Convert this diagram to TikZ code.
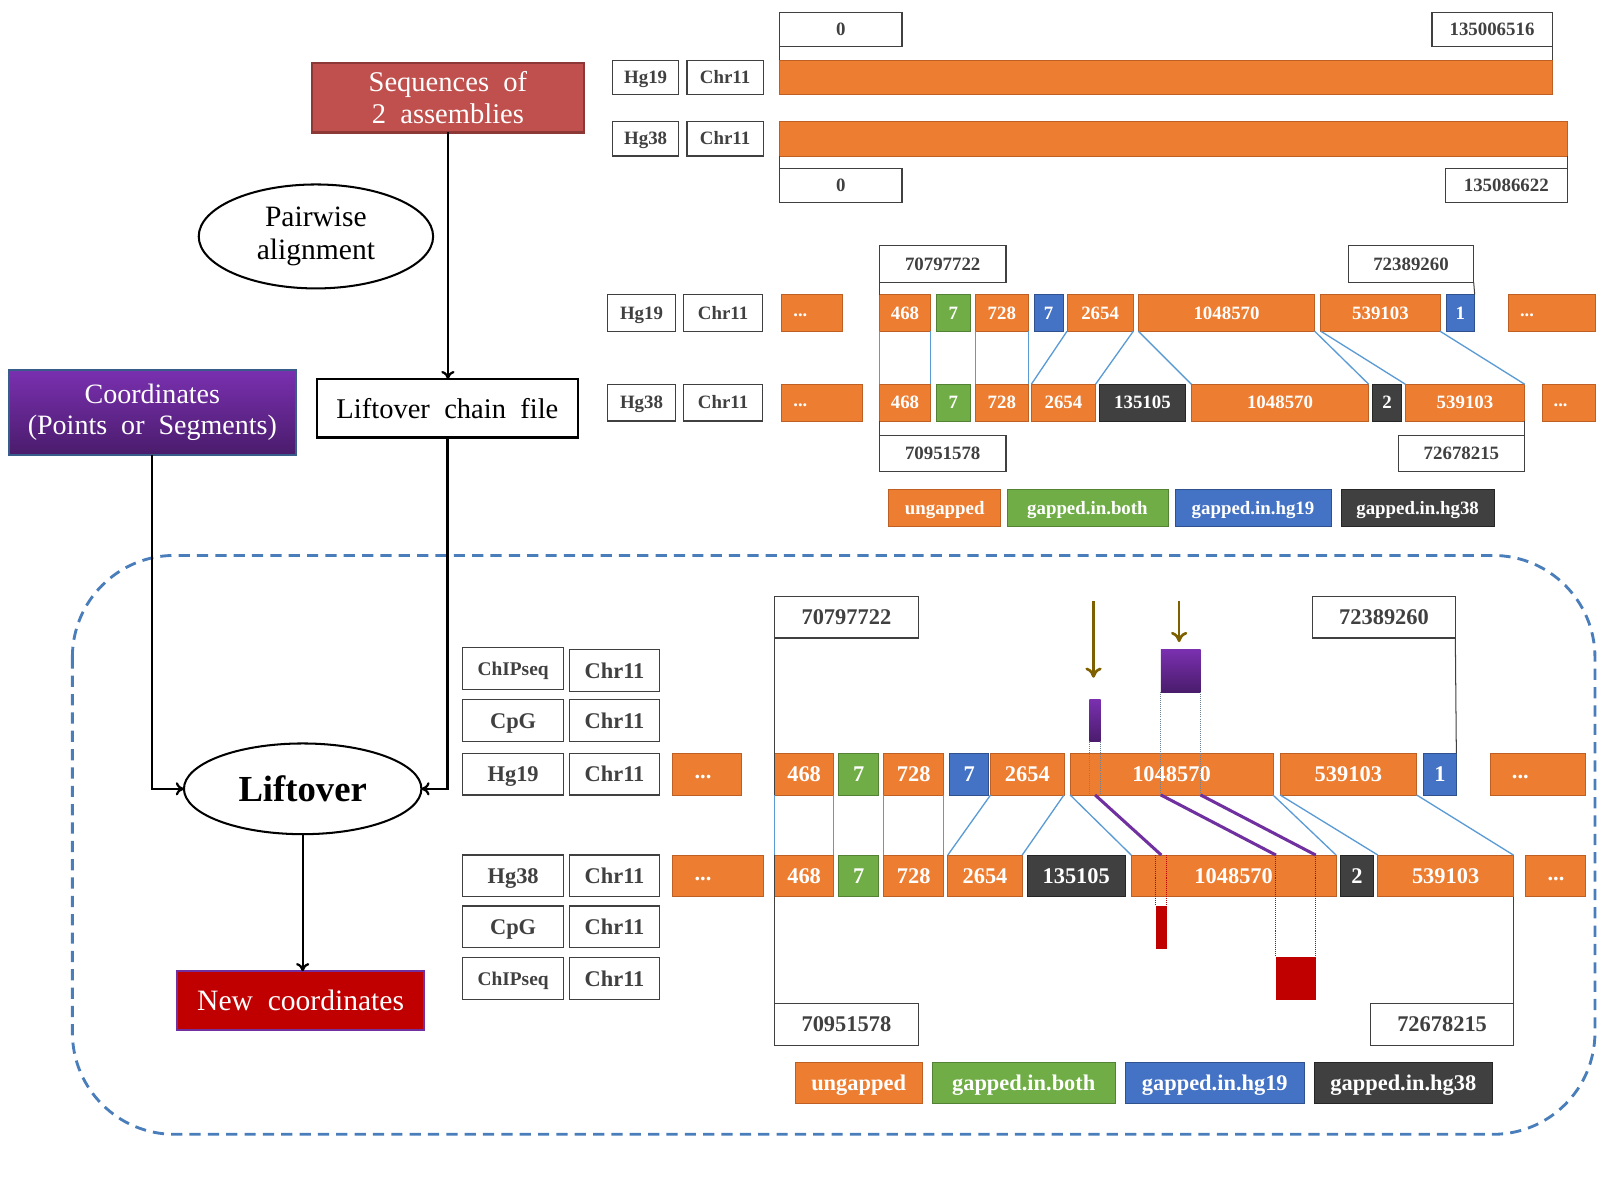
\documentclass[tikz,border=0pt]{standalone}
\usepackage{fontspec}
\setmainfont{Liberation Serif}
\usetikzlibrary{arrows.meta, positioning, shapes.geometric, calc}
\definecolor{ungap}{RGB}{237,125,49}
\definecolor{ungapedge}{RGB}{190,95,35}
\definecolor{gboth}{RGB}{112,173,71}
\definecolor{gbothedge}{RGB}{84,130,53}
\definecolor{hgblue}{RGB}{68,114,196}
\definecolor{hgblueedge}{RGB}{47,82,143}
\definecolor{hgdark}{RGB}{64,64,64}
\definecolor{hgdarkedge}{RGB}{38,38,38}
\definecolor{linkblue}{RGB}{91,155,213}
\definecolor{frameblue}{RGB}{74,126,187}
\definecolor{labgray}{RGB}{64,64,64}
\definecolor{seqred}{RGB}{192,80,77}
\definecolor{seqedge}{RGB}{140,56,54}
\definecolor{purptop}{RGB}{122,48,176}
\definecolor{purpbot}{RGB}{74,28,108}
\definecolor{coordedge}{RGB}{56,93,138}
\definecolor{newred}{RGB}{192,0,0}
\definecolor{mapline}{RGB}{112,48,160}
\definecolor{pinbrown}{RGB}{127,96,0}
\definecolor{dotgray}{RGB}{110,130,150}

\begin{document}
\begin{tikzpicture}[x=1pt, y=-1pt,
  lab/.style={rectangle, draw=labgray, line width=1.2pt, fill=white, text=labgray,
    inner sep=0pt, outer sep=0pt},
  seg/.style={rectangle, inner sep=0pt, outer sep=0pt, line width=0.8pt, text=white},
  ung/.style={seg, fill=ungap, draw=ungapedge},
  both/.style={seg, fill=gboth, draw=gbothedge},
  onlyA/.style={seg, fill=hgblue, draw=hgblueedge},
  onlyB/.style={seg, fill=hgdark, draw=hgdarkedge},
  toprow/.style={minimum height=34pt, text height=12.4pt, text depth=0pt,
    font=\bfseries\fontsize{18.5}{18.5}\selectfont},
  midrow/.style={minimum height=36pt, text height=12.6pt, text depth=0pt,
    font=\bfseries\fontsize{18.5}{18.5}\selectfont},
  botrow/.style={minimum height=41pt, text height=15pt, text depth=0pt,
    font=\bfseries\fontsize{22}{22}\selectfont},
  dotlab/.style={anchor=west, xshift=8pt, text=white, font=\bfseries\fontsize{18}{18}\selectfont},
  dotlabbig/.style={dotlab, xshift=10pt, font=\bfseries\fontsize{22}{22}\selectfont},
  link/.style={linkblue, line width=1.3pt},
  tick/.style={labgray, line width=1pt},
  flow/.style={align=center, inner sep=0pt, outer sep=0pt, font=\fontsize{28}{31}\selectfont},
  flowarr/.style={-{To[length=8pt,width=13pt]}, line width=2.2pt},
  pin/.style={-{To[length=10pt,width=16pt]}, pinbrown, line width=2.6pt},
  mapped/.style={mapline, line width=3pt},
  guide/.style={densely dotted, line width=1pt}
]
\useasboundingbox (0,0) rectangle (1568,1176);

%% liftover frame
\draw[frameblue, line width=2.8pt, dash pattern=on 11pt off 7pt, rounded corners=100pt]
  (71,545) rectangle (1565,1113);

%% flow chart
\node[flow, rectangle, fill=seqred, draw=seqedge, line width=2pt, text=white,
  minimum width=267pt, minimum height=68pt] (seq) at (439.5,96) {Sequences\ \ of\\2\ \ assemblies};
\node[flow, ellipse, draw, line width=2pt, minimum width=230pt, minimum height=102pt,
  font=\fontsize{29}{33}\selectfont] (pair) at (310,232) {Pairwise\\alignment};
\node[flow, rectangle, draw, line width=2.6pt, fill=white,
  minimum width=256pt, minimum height=57pt] (chain) at (439,400.5) {Liftover\ \ chain\ \ file};
\node[flow, rectangle, top color=purptop, bottom color=purpbot, draw=coordedge, line width=2pt,
  text=white, minimum width=281pt, minimum height=83pt, font=\fontsize{27.5}{31}\selectfont]
  (coord) at (149.5,404.5) {Coordinates\\(Points\ \ or\ \ Segments)};
\node[flow, ellipse, draw, line width=2pt, minimum width=233pt, minimum height=89pt,
  font=\bfseries\fontsize{36}{36}\selectfont] (lift) at (297,774) {Liftover};
\node[flow, rectangle, fill=newred, draw=mapline, line width=2pt, text=white,
  minimum width=242pt, minimum height=58pt, font=\fontsize{29}{31}\selectfont]
  (newc) at (295,982) {New\ \ coordinates};

\draw[flowarr] (seq.south) -- (seq.south |- chain.north);
\draw[flowarr] (coord.south) |- (lift.west);
\draw[flowarr] (chain.south) |- (lift.east);
\draw[flowarr] (lift.south) -- (lift.south |- newc.north);

%% whole chromosomes
\node[lab, toprow, minimum width=65pt] (t19-asm) at (633.5,76) {Hg19};
\node[lab, toprow, minimum width=75pt] (t19-chr) at (711.5,76) {Chr11};
\node[ung, toprow, minimum width=758pt] (t19) at (1144,76) {};
\node[lab, toprow, minimum width=65pt] (t38-asm) at (633.5,136) {Hg38};
\node[lab, toprow, minimum width=75pt] (t38-chr) at (711.5,136) {Chr11};
\node[ung, toprow, minimum width=773pt] (t38) at (1151.5,136) {};
\node[lab, toprow, minimum width=120pt] (t19-start) at (825,29) {0};
\node[lab, toprow, minimum width=118pt] (t19-end) at (1464,29) {135006516};
\node[lab, toprow, minimum width=120pt] (t38-start) at (825,182) {0};
\node[lab, toprow, minimum width=120pt] (t38-end) at (1478,182) {135086622};
\draw[tick] (t19-start.south west) -- (t19.north west);
\draw[tick] (t19-end.south east) -- (t19.north east);
\draw[tick] (t38.south west) -- (t38-start.north west);
\draw[tick] (t38.south east) -- (t38-end.north east);

%% chain blocks
\node[lab, midrow, minimum width=67pt] (m19-asm) at (629.5,307) {Hg19};
\node[lab, midrow, minimum width=77pt] (m19-chr) at (709.5,307) {Chr11};
\node[ung, midrow, minimum width=60pt, label={[dotlab]west:\strut...}] (m19-l) at (797,307) {};
\node[ung, midrow, minimum width=50pt] (m19-468) at (888,307) {468};
\node[both, midrow, minimum width=33pt] (m19-7g) at (935.5,307) {7};
\node[ung, midrow, minimum width=52pt] (m19-728) at (983,307) {728};
\node[onlyA, midrow, minimum width=28pt] (m19-7b) at (1029,307) {7};
\node[ung, midrow, minimum width=65pt] (m19-2654) at (1079.5,307) {2654};
\node[ung, midrow, minimum width=173pt] (m19-1048570) at (1203.5,307) {1048570};
\node[ung, midrow, minimum width=117pt] (m19-539103) at (1354.5,307) {539103};
\node[onlyA, midrow, minimum width=28pt] (m19-1) at (1433,307) {1};
\node[ung, midrow, minimum width=85pt, label={[dotlab]west:\strut...}] (m19-r) at (1522.5,307) {};

\node[lab, midrow, minimum width=67pt] (m38-asm) at (629.5,395) {Hg38};
\node[lab, midrow, minimum width=77pt] (m38-chr) at (709.5,395) {Chr11};
\node[ung, midrow, minimum width=79pt, label={[dotlab]west:\strut...}] (m38-l) at (806.5,395) {};
\node[ung, midrow, minimum width=50pt] (m38-468) at (888,395) {468};
\node[both, midrow, minimum width=33pt] (m38-7g) at (935.5,395) {7};
\node[ung, midrow, minimum width=52pt] (m38-728) at (983,395) {728};
\node[ung, midrow, minimum width=63pt] (m38-2654) at (1043.5,395) {2654};
\node[onlyB, midrow, minimum width=84pt] (m38-135105) at (1121,395) {135105};
\node[ung, midrow, minimum width=174pt] (m38-1048570) at (1256,395) {1048570};
\node[onlyB, midrow, minimum width=28pt] (m38-2) at (1361,395) {2};
\node[ung, midrow, minimum width=117pt] (m38-539103) at (1437.5,395) {539103};
\node[ung, midrow, minimum width=52pt, label={[dotlab]west:\strut...}] (m38-r) at (1539,395) {};

\node[lab, midrow, minimum width=124pt] (m19-start) at (925,259) {70797722};
\node[lab, midrow, minimum width=123pt] (m19-end) at (1384.5,259) {72389260};
\node[lab, midrow, minimum width=124pt] (m38-start) at (925,445) {70951578};
\node[lab, midrow, minimum width=124pt] (m38-end) at (1434,445) {72678215};
\draw[tick] (m19-start.south west) -- (m19-468.north west);
\draw[tick] (m19-end.south east) -- (m19-1.north east);
\draw[tick] (m38-468.south west) -- (m38-start.north west);
\draw[tick] (m38-539103.south east) -- (m38-end.north east);

\foreach \blk in {468,728,2654,1048570,539103} {
  \draw[link] (m19-\blk.south west) -- (m38-\blk.north west);
  \draw[link] (m19-\blk.south east) -- (m38-\blk.north east);
}

\node[ung, midrow, minimum width=110pt] (m-key1) at (927,498.5) {ungapped};
\node[both, midrow, minimum width=158pt] (m-key2) at (1067,498.5) {gapped.in.both};
\node[onlyA, midrow, minimum width=153pt] (m-key3) at (1229.5,498.5) {gapped.in.hg19};
\node[onlyB, midrow, minimum width=150pt] (m-key4) at (1391,498.5) {gapped.in.hg38};

%% tracks lifted over the chain
\node[lab, botrow, minimum width=99pt, text height=13pt, font=\bfseries\fontsize{19}{19}\selectfont] (b-chip1) at (503.5,656) {ChIPseq};
\node[lab, botrow, minimum width=88pt] (b-chip1-chr) at (603,658) {Chr11};
\node[lab, botrow, minimum width=99pt] (b-cpg1) at (503.5,707) {CpG};
\node[lab, botrow, minimum width=88pt] (b-cpg1-chr) at (603,707) {Chr11};
\node[lab, botrow, minimum width=99pt] (b19-asm) at (503.5,759.5) {Hg19};
\node[lab, botrow, minimum width=88pt] (b19-chr) at (603,759.5) {Chr11};
\node[lab, botrow, minimum width=99pt] (b38-asm) at (503.5,859.5) {Hg38};
\node[lab, botrow, minimum width=88pt] (b38-chr) at (603,859.5) {Chr11};
\node[lab, botrow, minimum width=99pt] (b-cpg2) at (503.5,909.5) {CpG};
\node[lab, botrow, minimum width=88pt] (b-cpg2-chr) at (603,909.5) {Chr11};
\node[lab, botrow, minimum width=99pt, text height=13pt, font=\bfseries\fontsize{19}{19}\selectfont] (b-chip2) at (503.5,960) {ChIPseq};
\node[lab, botrow, minimum width=88pt] (b-chip2-chr) at (603,960) {Chr11};

\node[lab, botrow, minimum width=141pt] (b19-start) at (830.5,605.5) {70797722};
\node[lab, botrow, minimum width=140pt] (b19-end) at (1358,605.5) {72389260};
\node[lab, botrow, minimum width=141pt] (b38-start) at (830.5,1005) {70951578};
\node[lab, botrow, minimum width=140pt] (b38-end) at (1415,1005) {72678215};

\node[ung, botrow, minimum width=67pt, label={[dotlabbig]west:\strut...}] (b19-l) at (693.5,759.5) {};
\node[ung, botrow, minimum width=58pt] (b19-468) at (789,759.5) {468};
\node[both, botrow, minimum width=39pt] (b19-7g) at (842.5,759.5) {7};
\node[ung, botrow, minimum width=59pt] (b19-728) at (896.5,759.5) {728};
\node[onlyA, botrow, minimum width=38pt] (b19-7b) at (951,759.5) {7};
\node[ung, botrow, minimum width=72pt] (b19-2654) at (1008,759.5) {2654};
\node[ung, botrow, minimum width=199pt] (b19-1048570) at (1149.5,759.5) {1048570};
\node[ung, botrow, minimum width=134pt] (b19-539103) at (1323,759.5) {539103};
\node[onlyA, botrow, minimum width=32pt] (b19-1) at (1413,759.5) {1};
\node[ung, botrow, minimum width=94pt, label={[dotlabbig]west:\strut...}] (b19-r) at (1509,759.5) {};

\node[ung, botrow, minimum width=89pt, label={[dotlabbig]west:\strut...}] (b38-l) at (704.5,859.5) {};
\node[ung, botrow, minimum width=58pt] (b38-468) at (789,859.5) {468};
\node[both, botrow, minimum width=39pt] (b38-7g) at (842.5,859.5) {7};
\node[ung, botrow, minimum width=59pt] (b38-728) at (896.5,859.5) {728};
\node[ung, botrow, minimum width=73pt] (b38-2654) at (966.5,859.5) {2654};
\node[onlyB, botrow, minimum width=96pt] (b38-135105) at (1056,859.5) {135105};
\node[ung, botrow, minimum width=201pt] (b38-1048570) at (1210.5,859.5) {1048570};
\node[onlyB, botrow, minimum width=33pt] (b38-2) at (1331.5,859.5) {2};
\node[ung, botrow, minimum width=133pt] (b38-539103) at (1418.5,859.5) {539103};
\node[ung, botrow, minimum width=59pt, label={[dotlabbig]west:\strut...}] (b38-r) at (1526.5,859.5) {};

\draw[tick] (b19-start.south west) -- (b38-start.north west);
\draw[tick] (b19-end.south east) -- (b19-1.north east);
\draw[tick] (b38-539103.south east) -- (b38-end.north east);

\foreach \blk in {468,728,2654,1048570,539103} {
  \draw[link] (b19-\blk.south west) -- (b38-\blk.north west);
  \draw[link] (b19-\blk.south east) -- (b38-\blk.north east);
}

%% ChIPseq peak and CpG island, before and after
\node[seg, top color=purptop, bottom color=purpbot, minimum width=11pt, minimum height=42pt] (cpg19) at (1074.5,707) {};
\node[seg, top color=purptop, bottom color=purpbot, minimum width=39pt, minimum height=42pt] (chip19) at (1158.5,658) {};
\node[seg, fill=newred, minimum width=11pt, minimum height=42pt] (cpg38) at (1139.5,910) {};
\node[seg, fill=newred, minimum width=39pt, minimum height=42pt] (chip38) at (1271.5,960) {};

\coordinate (pin1) at (1073,590);
\coordinate (pin2) at (1157,590);
\draw[pin] (pin1) -- (pin1 |- 0,665);
\draw[pin] (pin2) -- (pin2 |- 0,630);

\draw[guide, dotgray] (cpg19.south west) -- (cpg19.south west |- b19-1048570.south);
\draw[guide, dotgray] (cpg19.south east) -- (cpg19.south east |- b19-1048570.south);
\draw[guide, dotgray] (chip19.south west) -- (chip19.south west |- b19-1048570.south);
\draw[guide, dotgray] (chip19.south east) -- (chip19.south east |- b19-1048570.south);
\draw[guide, newred] (cpg38.north west |- b38-1048570.north) -- (cpg38.north west);
\draw[guide, newred] (cpg38.north east |- b38-1048570.north) -- (cpg38.north east);
\draw[guide, newred] (chip38.north west |- b38-1048570.north) -- (chip38.north west);
\draw[guide, newred] (chip38.north east |- b38-1048570.north) -- (chip38.north east);

\draw[mapped] (cpg19.south |- b19-1048570.south) -- (cpg38.north |- b38-1048570.north);
\draw[mapped] (chip19.south west |- b19-1048570.south) -- (chip38.north west |- b38-1048570.north);
\draw[mapped] (chip19.south east |- b19-1048570.south) -- (chip38.north east |- b38-1048570.north);

\node[ung, botrow, minimum width=125pt] (b-key1) at (842.5,1062.5) {ungapped};
\node[both, botrow, minimum width=179pt] (b-key2) at (1004.5,1062.5) {gapped.in.both};
\node[onlyA, botrow, minimum width=176pt] (b-key3) at (1192,1062.5) {gapped.in.hg19};
\node[onlyB, botrow, minimum width=174pt] (b-key4) at (1377,1062.5) {gapped.in.hg38};
\end{tikzpicture}
\end{document}
